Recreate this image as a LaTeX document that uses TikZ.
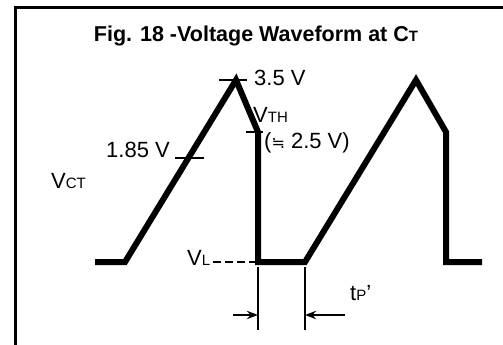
\documentclass[tikz,border=0pt]{standalone}
\usepackage{fontspec}
\setmainfont{Liberation Sans}
\newfontfamily\symfont{DejaVu Sans}
\usetikzlibrary{arrows.meta,positioning}

\newcommand{\lsub}[1]{{\fontsize{15}{16}\selectfont #1}}

\begin{document}
\begin{tikzpicture}[x=1pt,y=-1pt,>=Stealth,
  wave/.style={line width=6pt},
  tickline/.style={line width=2.6pt},
  lbl/.style={font=\fontsize{22}{25}\selectfont,inner sep=0pt,anchor=base west}]
\useasboundingbox (0,0) rectangle (503,345);
% frame
\draw[line width=3pt] (15,345) -- (15,8) -- (503,8);
\node[font=\bfseries\fontsize{21.5}{24}\selectfont,inner sep=0pt,anchor=base] (title) at (256,42) {Fig. 18 -Voltage Waveform at C{\fontsize{15}{16}\selectfont T}};

% waveform points
\coordinate (a0) at (95,262);
\coordinate (a1) at (125,262);
\coordinate (p1) at (236,80);
\coordinate (t1) at (258,132);
\coordinate (b1) at (258,262);
\coordinate (a2) at (305,262);
\coordinate (p2) at (416,80);
\coordinate (t2) at (446,132);
\coordinate (b2) at (446,262);
\coordinate (a3) at (482,262);
\draw[wave] (a0) -- (a1) -- (p1) -- (t1) -- (b1) -- (a2) -- (p2) -- (t2) -- (b2) -- (a3);

% level marks
\coordinate (top1) at (219,80);
\coordinate (top2) at (247,80);
\coordinate (mid1) at (175,158);
\coordinate (mid2) at (204,158);
\coordinate (th1) at (246,132);
\coordinate (th2) at (263,132);
\draw[tickline] (top1) -- (top2);
\draw[tickline] (mid1) -- (mid2);
\draw[tickline] (th1) -- (th2);

% labels
\node[lbl] (vtop) at (254,85) {3.5 V};
\node[lbl] (vth) at (253,122) {V\lsub{TH}};
\node[lbl] (vthval) at (264,148) {({\symfont\fontsize{16}{16}\selectfont ≒} 2.5 V)};
\node[lbl] (vmid) at (106,157) {1.85 V};
\node[lbl] (vct) at (51,188) {V\lsub{CT}};
\node[lbl] (vl) at (187,265) {V\lsub{L}};
\draw[tickline,dash pattern=on 8pt off 4pt] (213,262) -- (b1);

% pause time
\coordinate (d1a) at (258,267);
\coordinate (d1b) at (258,330);
\coordinate (d2a) at (305,267);
\coordinate (d2b) at (305,330);
\draw[tickline] (d1a) -- (d1b);
\draw[tickline] (d2a) -- (d2b);
\coordinate (arrL) at (233,315);
\coordinate (arrR) at (345,315);
\draw[line width=1.8pt,->] (arrL) -- (d1a |- arrL);
\draw[line width=1.8pt,->] (arrR) -- (d2a |- arrR);
\node[lbl] (tp) at (350,300) {t\lsub{P}'};
\end{tikzpicture}
\end{document}
